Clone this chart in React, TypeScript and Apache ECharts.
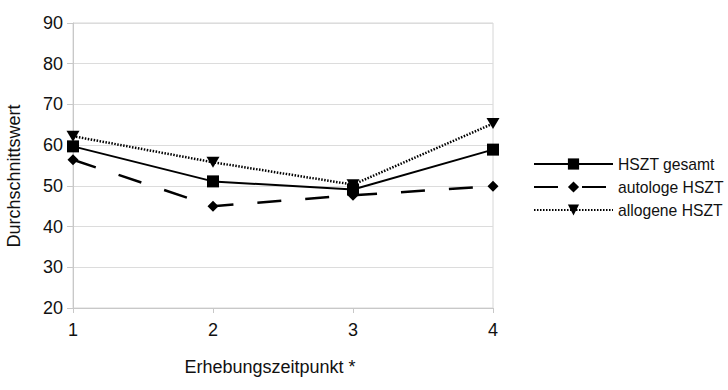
import React, { useEffect, useRef } from "react";
import * as echarts from "echarts";

const categories = ["1", "2", "3", "4"];
const gesamt = [59.7, 51.1, 49.1, 58.9];
const autologe = [56.4, 45.0, 47.7, 49.9];
const allogene = [62.2, 55.8, 50.3, 65.3];
const yTicks = { min: 20, max: 90, interval: 10 };
const seriesNames = ["HSZT gesamt", "autologe HSZT", "allogene HSZT"];
const xTitle = "Erhebungszeitpunkt *";
const yTitle = "Durchschnittswert";

const FONT = "'Liberation Sans', Arial, sans-serif";

export default function App() {
  const ref = useRef<HTMLDivElement>(null);
  useEffect(() => {
    if (!ref.current) return;
    const chart = echarts.init(ref.current, undefined, { renderer: "svg" });
    chart.setOption({
      animation: false,
      textStyle: { fontFamily: FONT },
      grid: {
        left: 73,
        right: 235,
        top: 23,
        bottom: 82,
        show: true,
        borderColor: "#d6d6d6",
        borderWidth: 1,
      },
      legend: {
        orient: "vertical",
        left: 528,
        top: 151,
        itemWidth: 79,
        itemHeight: 14,
        itemGap: 7,
        textStyle: { fontFamily: FONT, fontSize: 15.7, color: "#111" },
        data: seriesNames,
      },
      xAxis: {
        type: "category",
        data: categories,
        boundaryGap: false,
        axisLine: { lineStyle: { color: "#c8c8c8" } },
        axisTick: { show: true, length: 5, lineStyle: { color: "#c8c8c8" } },
        axisLabel: { fontSize: 18, color: "#111", margin: 13, fontFamily: FONT },
        splitLine: { show: false },
      },
      yAxis: {
        type: "value",
        min: yTicks.min,
        max: yTicks.max,
        interval: yTicks.interval,
        axisLine: { show: true, lineStyle: { color: "#c8c8c8" } },
        axisTick: { show: true, length: 6, lineStyle: { color: "#c8c8c8" } },
        axisLabel: { fontSize: 18, color: "#111", margin: 10, fontFamily: FONT },
        splitLine: { lineStyle: { color: "#dcdcdc" } },
      },
      graphic: [
        {
          type: "text",
          x: 270,
          y: 367,
          style: {
            text: xTitle,
            fontSize: 18,
            fontFamily: FONT,
            fill: "#111",
            align: "center",
            verticalAlign: "middle",
          },
        },
        {
          type: "text",
          x: 14,
          y: 176,
          rotation: Math.PI / 2,
          style: {
            text: yTitle,
            fontSize: 18,
            fontFamily: FONT,
            fill: "#111",
            align: "center",
            verticalAlign: "middle",
          },
        },
      ],
      series: [
        {
          name: seriesNames[0],
          type: "line",
          data: gesamt,
          symbol: "rect",
          symbolSize: 12,
          itemStyle: { color: "#000" },
          lineStyle: { color: "#000", width: 2 },
          z: 3,
        },
        {
          name: seriesNames[1],
          type: "line",
          data: autologe,
          symbol: "diamond",
          symbolSize: 11,
          itemStyle: { color: "#000" },
          lineStyle: { color: "#000", width: 2.5, type: [24, 24] },
          z: 2,
        },
        {
          name: seriesNames[2],
          type: "line",
          data: allogene,
          symbol: "triangle",
          symbolRotate: 180,
          symbolSize: [13, 11],
          itemStyle: { color: "#000" },
          lineStyle: { color: "#000", width: 2.5, type: [1.5, 1.5] },
          z: 4,
        },
      ],
    });
    return () => chart.dispose();
  }, []);
  return <div ref={ref} style={{ width: 728, height: 390, position: "absolute", left: 0, top: 0 }} />;
}
